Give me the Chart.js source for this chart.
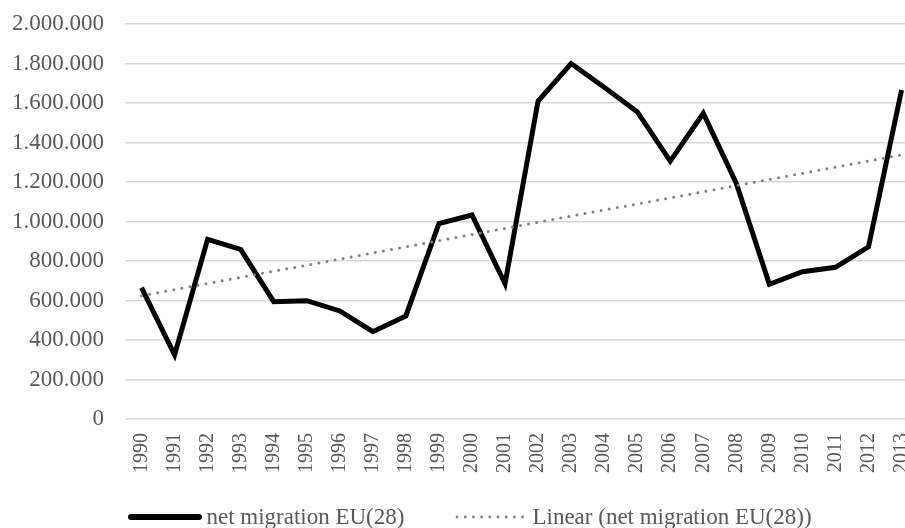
<!DOCTYPE html>
<html>
<head>
<meta charset="utf-8">
<script src="https://cdn.jsdelivr.net/npm/chart.js@4.4.1/dist/chart.umd.min.js"></script>
<style>
  html, body { margin: 0; padding: 0; background: #fff; overflow: hidden; }
  #wrap { position: relative; width: 940px; height: 528px; }
  #legend {
    position: absolute; left: 0; top: 503px; width: 940px; height: 28px;
    display: flex; justify-content: center; align-items: center;
    font-family: "Liberation Serif", "Times New Roman", serif;
    font-size: 23px; color: #595959;
  }
  .item { display: flex; align-items: center; white-space: nowrap; }
  .item + .item { margin-left: 50px; }
  .item svg { margin-right: 4px; }
</style>
</head>
<body>
<div id="wrap">
  <canvas id="chart" width="940" height="528"></canvas>
  <div id="legend"></div>
</div>
<script>
const years = ['1990', '1991', '1992', '1993', '1994', '1995', '1996', '1997',
  '1998', '1999', '2000', '2001', '2002', '2003', '2004', '2005', '2006', '2007',
  '2008', '2009', '2010', '2011', '2012', '2013'];
const netMigration = [665000, 325000, 910000, 859000, 594000, 599000, 547000, 442000,
  522000, 990000, 1033000, 685000, 1610000, 1800000, 1680000, 1556000, 1306000, 1548000,
  1193000, 682000, 746000, 768000, 872000, 1666000];
// linear trend, read at both ends of the range
const trendYears = ['1990', '2013'];
const trendValues = [624000, 1337000];
const yTickValues = [0, 200000, 400000, 600000, 800000, 1000000, 1200000, 1400000,
  1600000, 1800000, 2000000];
const seriesNames = ['net migration EU(28)', 'Linear (net migration EU(28))'];

const textColor = '#595959';
const fontFamily = '"Liberation Serif", "Times New Roman", serif';

function formatNumber(value) {
  return String(value).replace(/\B(?=(\d{3})+(?!\d))/g, '.');
}

function buildLegend(chart) {
  const box = document.getElementById('legend');
  box.innerHTML = '';
  const svgNS = 'http://www.w3.org/2000/svg';
  for (const ds of chart.data.datasets) {
    const item = document.createElement('div');
    item.className = 'item';
    const svg = document.createElementNS(svgNS, 'svg');
    svg.setAttribute('width', 74);
    svg.setAttribute('height', 10);
    const line = document.createElementNS(svgNS, 'line');
    line.setAttribute('x1', 3);
    line.setAttribute('x2', 71);
    line.setAttribute('y1', 5);
    line.setAttribute('y2', 5);
    line.setAttribute('stroke', ds.borderColor);
    line.setAttribute('stroke-width', ds.legendWidth);
    line.setAttribute('stroke-linecap', 'round');
    if (ds.borderDash) line.setAttribute('stroke-dasharray', ds.borderDash.join(' '));
    svg.appendChild(line);
    const label = document.createElement('span');
    label.textContent = ds.label;
    item.appendChild(svg);
    item.appendChild(label);
    box.appendChild(item);
  }
}

const chart = new Chart('chart', {
  type: 'line',
  data: {
    labels: years,
    datasets: [
      {
        label: seriesNames[0],
        data: netMigration,
        borderColor: '#000000',
        borderWidth: 5,
        borderJoinStyle: 'miter',
        pointRadius: 0,
        tension: 0,
        fill: false,
        order: 1,
        legendWidth: 6,
      },
      {
        label: seriesNames[1],
        data: trendYears.map((year, i) => ({x: year, y: trendValues[i]})),
        borderColor: '#808080',
        borderWidth: 3,
        borderDash: [0, 8.2],
        borderCapStyle: 'round',
        pointRadius: 0,
        tension: 0,
        fill: false,
        order: 0,
        legendWidth: 2.8,
      },
    ],
  },
  options: {
    responsive: false,
    animation: false,
    layout: {
      padding: {left: 12, right: 21, top: 24, bottom: 41},
    },
    scales: {
      x: {
        type: 'category',
        offset: true,
        grid: {display: false, drawTicks: false},
        border: {display: false},
        ticks: {
          color: textColor,
          font: {size: 20, family: fontFamily},
          minRotation: 90,
          maxRotation: 90,
          autoSkip: false,
          padding: 14,
        },
      },
      y: {
        min: 0,
        max: 2000000,
        afterBuildTicks: (scale) => {
          scale.ticks = yTickValues.map(v => ({value: v}));
        },
        afterFit: (scale) => {
          scale.width = 113;
          scale.paddingTop = 12;
          scale.paddingBottom = 12;
        },
        grid: {color: '#d9d9d9', lineWidth: 1.5, drawTicks: false},
        border: {display: false},
        ticks: {
          color: textColor,
          font: {size: 23, family: fontFamily},
          padding: 21,
          callback: (value) => formatNumber(value),
        },
      },
    },
    plugins: {
      legend: {display: false},
      tooltip: {enabled: false},
    },
  },
});

buildLegend(chart);
</script>
</body>
</html>
